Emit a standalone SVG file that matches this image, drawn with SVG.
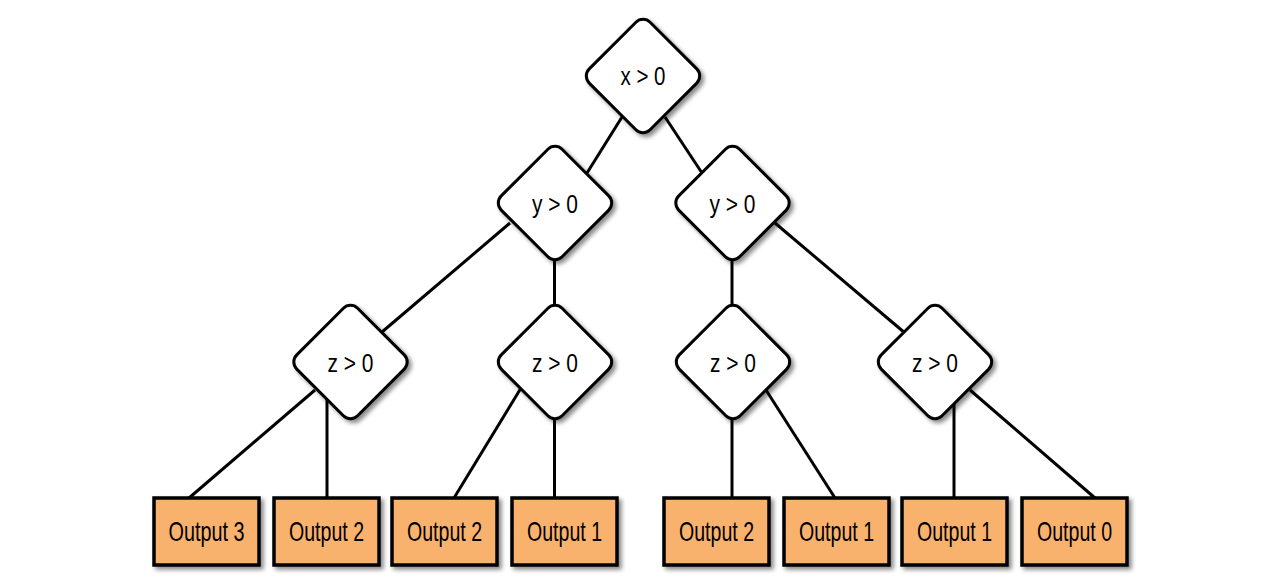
<svg xmlns="http://www.w3.org/2000/svg" width="1287" height="584" viewBox="0 0 1287 584">
  <defs>
    <filter id="shadow" x="-30%" y="-30%" width="160%" height="160%">
      <feDropShadow dx="3" dy="3" stdDeviation="2" flood-color="#000" flood-opacity="0.45"/>
    </filter>
    <!-- rounded square, rotated into a decision diamond -->
    <rect id="diamond-shape" x="-43" y="-43" width="86" height="86" rx="10" ry="10" transform="rotate(45)"/>
  </defs>
  <style>
    .edge { stroke: #000; stroke-width: 3; fill: none; }
    .decision use { fill: #fff; stroke: #000; stroke-width: 3; filter: url(#shadow); }
    .leaf rect { fill: #F9B26E; stroke: #000; stroke-width: 3.5; filter: url(#shadow); }
    text { font-family: "Liberation Sans", Arial, sans-serif; fill: #000; text-anchor: middle; }
    .decision text { font-size: 25.5px; }
    .leaf text { font-size: 28px; }
  </style>
  <rect width="1287" height="584" fill="#fff"/>

  <g id="connectors">
    <line class="edge" x1="622" y1="117" x2="587" y2="173"/>
    <line class="edge" x1="665" y1="117" x2="702" y2="173"/>
    <line class="edge" x1="510" y1="223" x2="382" y2="332"/>
    <line class="edge" x1="554.5" y1="250" x2="554.5" y2="315"/>
    <line class="edge" x1="775" y1="223" x2="905" y2="333"/>
    <line class="edge" x1="732" y1="250" x2="732" y2="315"/>
    <line class="edge" x1="315" y1="390" x2="189" y2="498"/>
    <line class="edge" x1="327" y1="395" x2="327" y2="498"/>
    <line class="edge" x1="521" y1="388" x2="454" y2="498"/>
    <line class="edge" x1="554.5" y1="400" x2="554.5" y2="498"/>
    <line class="edge" x1="732" y1="400" x2="732" y2="498"/>
    <line class="edge" x1="766" y1="390" x2="835" y2="498"/>
    <line class="edge" x1="954" y1="395" x2="954" y2="498"/>
    <line class="edge" x1="970" y1="390" x2="1095" y2="498"/>
  </g>

  <g id="node-x" class="decision" transform="translate(643,76)">
    <use href="#diamond-shape"/>
    <text y="8.5" textLength="45" lengthAdjust="spacingAndGlyphs">x &gt; 0</text>
  </g>
  <g id="node-y-left" class="decision" transform="translate(555,203)">
    <use href="#diamond-shape"/>
    <text y="9.5" textLength="46" lengthAdjust="spacingAndGlyphs">y &gt; 0</text>
  </g>
  <g id="node-y-right" class="decision" transform="translate(732.5,203)">
    <use href="#diamond-shape"/>
    <text y="9.5" textLength="46" lengthAdjust="spacingAndGlyphs">y &gt; 0</text>
  </g>
  <g id="node-z-1" class="decision" transform="translate(350.5,362)">
    <use href="#diamond-shape"/>
    <text y="9.5" textLength="46" lengthAdjust="spacingAndGlyphs">z &gt; 0</text>
  </g>
  <g id="node-z-2" class="decision" transform="translate(555,362)">
    <use href="#diamond-shape"/>
    <text y="9.5" textLength="46" lengthAdjust="spacingAndGlyphs">z &gt; 0</text>
  </g>
  <g id="node-z-3" class="decision" transform="translate(733,362)">
    <use href="#diamond-shape"/>
    <text y="9.5" textLength="46" lengthAdjust="spacingAndGlyphs">z &gt; 0</text>
  </g>
  <g id="node-z-4" class="decision" transform="translate(935,362)">
    <use href="#diamond-shape"/>
    <text y="9.5" textLength="46" lengthAdjust="spacingAndGlyphs">z &gt; 0</text>
  </g>

  <g id="leaf-1" class="leaf">
    <rect x="154" y="498" width="105" height="67"/>
    <text x="206.5" y="541" textLength="76" lengthAdjust="spacingAndGlyphs">Output 3</text>
  </g>
  <g id="leaf-2" class="leaf">
    <rect x="274" y="498" width="105" height="67"/>
    <text x="326.5" y="541" textLength="75" lengthAdjust="spacingAndGlyphs">Output 2</text>
  </g>
  <g id="leaf-3" class="leaf">
    <rect x="392" y="498" width="105" height="67"/>
    <text x="444.5" y="541" textLength="75" lengthAdjust="spacingAndGlyphs">Output 2</text>
  </g>
  <g id="leaf-4" class="leaf">
    <rect x="512" y="498" width="105" height="67"/>
    <text x="564.5" y="541" textLength="75" lengthAdjust="spacingAndGlyphs">Output 1</text>
  </g>
  <g id="leaf-5" class="leaf">
    <rect x="664" y="498" width="105" height="67"/>
    <text x="716.5" y="541" textLength="75" lengthAdjust="spacingAndGlyphs">Output 2</text>
  </g>
  <g id="leaf-6" class="leaf">
    <rect x="784" y="498" width="105" height="67"/>
    <text x="836.5" y="541" textLength="75" lengthAdjust="spacingAndGlyphs">Output 1</text>
  </g>
  <g id="leaf-7" class="leaf">
    <rect x="902" y="498" width="105" height="67"/>
    <text x="954.5" y="541" textLength="75" lengthAdjust="spacingAndGlyphs">Output 1</text>
  </g>
  <g id="leaf-8" class="leaf">
    <rect x="1022" y="498" width="105" height="67"/>
    <text x="1074.5" y="541" textLength="75" lengthAdjust="spacingAndGlyphs">Output 0</text>
  </g>
</svg>
